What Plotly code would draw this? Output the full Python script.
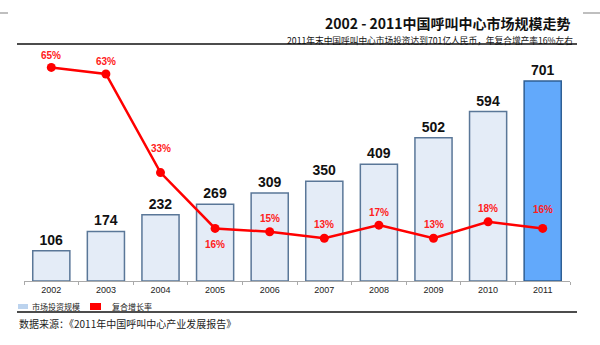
import plotly.graph_objects as go

years = ["2002", "2003", "2004", "2005", "2006", "2007", "2008", "2009", "2010", "2011"]
market = [106, 174, 232, 269, 309, 350, 409, 502, 594, 701]
growth = [65, 63, 33, 16, 15, 13, 17, 13, 18, 16]
growth_labels = ["65%", "63%", "33%", "16%", "15%", "13%", "17%", "13%", "18%", "16%"]
label_shift = [12, 12, 24, -16, 13, 14, 13, 14, 13, 19]

fill = ["#e4ecf7"] * 9 + ["#62a9fb"]
edge = ["#5a7798"] * 9 + ["#2f5f94"]

fig = go.Figure()
fig.add_trace(go.Bar(
    x=years, y=market, marker=dict(color=fill, line=dict(color=edge, width=1.5)),
    text=[str(v) for v in market], textposition="outside", cliponaxis=False,
    textfont=dict(family="Liberation Sans, Arial", size=14, color="#111111"),
    texttemplate="<b>%{text}</b>", showlegend=False, width=0.68,
))
fig.add_trace(go.Scatter(
    x=years, y=growth, yaxis="y2", mode="lines+markers",
    line=dict(color="#ff0000", width=2.5), marker=dict(color="#ff0000", size=9),
    showlegend=False, cliponaxis=False,
))
for i, (g, lab, sh) in enumerate(zip(growth, growth_labels, label_shift)):
    fig.add_annotation(x=i, xref="x", y=g, yref="y2", text="<b>" + lab + "</b>", showarrow=False,
                       yshift=sh, font=dict(family="Liberation Sans Narrow, Arial", size=10, color="#ff2020"))

fig.update_layout(
    width=600, height=345, margin=dict(l=24, r=30, t=50, b=64),
    paper_bgcolor="white", plot_bgcolor="white", bargap=0.32,
    xaxis=dict(type="category", range=[-0.5, 9.5], autorange=False,
               showline=True, linecolor="#aaaaaa", linewidth=1,
               ticks="outside", tickson="boundaries", ticklen=3, tickcolor="#aaaaaa",
               tickfont=dict(family="Liberation Sans, Arial", size=9, color="#222222"),
               showgrid=False),
    yaxis=dict(range=[0, 810], visible=False, showgrid=False),
    yaxis2=dict(range=[0, 70.3], overlaying="y", visible=False, showgrid=False),
    font=dict(family="Noto Sans CJK SC"),
)

# title and subtitle
fig.add_annotation(xref="paper", yref="paper", x=1.005, y=1.0, yshift=27, xanchor="right",
                   yanchor="middle", showarrow=False,
                   text="<b>2002 - 2011中国呼叫中心市场规模走势</b>",
                   font=dict(family="Noto Sans CJK SC", size=14, color="#111111"))
fig.add_annotation(xref="paper", yref="paper", x=1.01, y=1.0, yshift=10, xanchor="right",
                   yanchor="middle", showarrow=False,
                   text="2011年末中国呼叫中心市场投资达到701亿人民币，年复合增产率16%左右",
                   font=dict(family="Noto Sans CJK SC", size=8.7, color="#111111"))

# decorative lines
fig.add_shape(type="line", xref="paper", yref="paper", x0=-7/546, x1=553/546,
              y0=1 + 6/231, y1=1 + 6/231, line=dict(color="#111111", width=1.5))
fig.add_shape(type="line", xref="paper", yref="paper", x0=-7/546, x1=553/546,
              y0=-31/231, y1=-31/231, line=dict(color="#111111", width=1.5))
fig.add_shape(type="line", xref="paper", yref="paper", x0=-24/546, x1=-16/546,
              y0=1 + 37/231, y1=1 + 37/231, line=dict(color="#aaaaaa", width=1.5))
fig.add_shape(type="line", xref="paper", yref="paper", x0=559/546, x1=576/546,
              y0=1 + 37/231, y1=1 + 37/231, line=dict(color="#aaaaaa", width=1.5))

# legend
fig.add_shape(type="rect", xref="paper", yref="paper", x0=-6/546, x1=4/546,
              y0=-28/231, y1=-23/231, line=dict(width=0), fillcolor="#bcd3ee")
fig.add_annotation(xref="paper", yref="paper", x=6/546, y=-25.5/231, xanchor="left", yanchor="middle",
                   showarrow=False, text="市场投资规模",
                   font=dict(family="Noto Sans CJK SC", size=8, color="#222222"))
fig.add_shape(type="rect", xref="paper", yref="paper", x0=66/546, x1=77/546,
              y0=-29/231, y1=-22/231, line=dict(width=0), fillcolor="#ff0000")
fig.add_annotation(xref="paper", yref="paper", x=86/546, y=-25.5/231, xanchor="left", yanchor="middle",
                   showarrow=False, text="复合增长率",
                   font=dict(family="Noto Sans CJK SC", size=8, color="#222222"))
fig.add_annotation(xref="paper", yref="paper", x=-7/546, y=-42/231, xanchor="left", yanchor="middle",
                   showarrow=False, text="数据来源：《2011年中国呼叫中心产业发展报告》",
                   font=dict(family="Noto Sans CJK SC", size=10, color="#222222"))

fig.write_html("out.html")
